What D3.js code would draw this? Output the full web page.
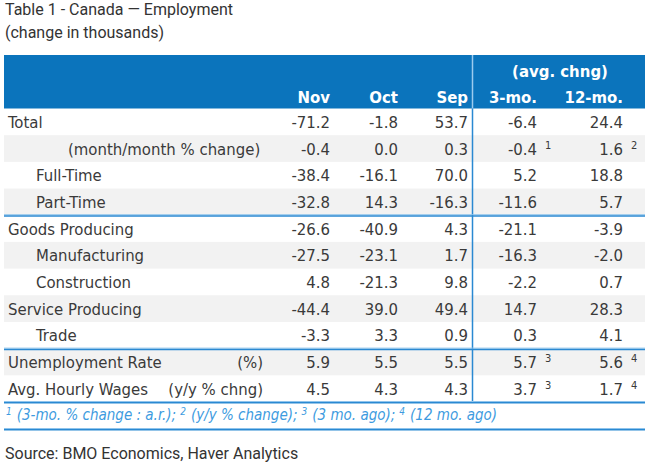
<!DOCTYPE html>
<html lang="en">
<head>
  <meta charset="UTF-8">
  <title>Table 1 - Canada — Employment</title>
  <script src="https://cdn.jsdelivr.net/npm/d3@7"></script>
  <style>
    body { margin: 0; background: #fff; }
    .title { font: 16px Roboto, sans-serif; fill: #333; }
    .cell, .head, .sup, .note { font-family: "DejaVu Sans", sans-serif; font-stretch: condensed; }
    .cell { font-size: 16.6px; fill: #3a3a3a; }
    .head { font-size: 16.6px; font-weight: bold; fill: #fff; }
    .sup { font-size: 11px; fill: #3a3a3a; }
    .note { font-size: 15px; font-style: italic; fill: #3d9be0; }
  </style>
</head>
<body>
  <svg width="657" height="468"></svg>
  <script>
    // table data
    const labels = ['Total', '(month/month % change)', 'Full-Time', 'Part-Time', 'Goods Producing',
      'Manufacturing', 'Construction', 'Service Producing', 'Trade', 'Unemployment Rate', 'Avg. Hourly Wages'];
    const indent = [0, 2, 1, 1, 0, 1, 1, 0, 1, 0, 0];
    const unitLabels = ['', '', '', '', '', '', '', '', '', '(%)', '(y/y % chng)'];
    const nov = ['-71.2', '-0.4', '-38.4', '-32.8', '-26.6', '-27.5', '4.8', '-44.4', '-3.3', '5.9', '4.5'];
    const oct = ['-1.8', '0.0', '-16.1', '14.3', '-40.9', '-23.1', '-21.3', '39.0', '3.3', '5.5', '4.3'];
    const sep = ['53.7', '0.3', '70.0', '-16.3', '4.3', '1.7', '9.8', '49.4', '0.9', '5.5', '4.3'];
    const avg3 = ['-6.4', '-0.4', '5.2', '-11.6', '-21.1', '-16.3', '-2.2', '14.7', '0.3', '5.7', '3.7'];
    const avg12 = ['24.4', '1.6', '18.8', '5.7', '-3.9', '-2.0', '0.7', '28.3', '4.1', '5.6', '1.7'];
    const sup3 = ['', '1', '', '', '', '', '', '', '', '3', '3'];
    const sup12 = ['', '2', '', '', '', '', '', '', '', '4', '4'];
    const columns = ['Nov', 'Oct', 'Sep', '3-mo.', '12-mo.'];
    const breaksAfter = [3, 8, 10];
    const footnotes = [['1', '(3-mo. % change : a.r.);'], ['2', '(y/y % change);'], ['3', '(3 mo. ago);'], ['4', '(12 mo. ago)']];

    const svg = d3.select('svg');
    const blue = '#0b74bc';
    const lineBlue = '#2a89d2';

    const y = d3.scaleBand().domain(d3.range(labels.length)).range([108.5, 402]);
    const x = d3.scaleOrdinal().domain(columns).range([330, 398, 468, 537, 623]);
    const left = 4, right = 645, divider = 472.5;

    // titles
    svg.append('text').attr('class', 'title').attr('x', 5).attr('y', 15).text('Table 1 - Canada — Employment');
    svg.append('text').attr('class', 'title').attr('x', 5).attr('y', 38).text('(change in thousands)');

    // header
    svg.append('rect').attr('x', left).attr('y', 55).attr('width', right - left).attr('height', 53.5).attr('fill', blue);
    svg.append('line').attr('x1', divider).attr('x2', divider).attr('y1', 55).attr('y2', 108.5)
      .attr('stroke', '#9ccbef').attr('stroke-width', 1.5);
    svg.append('text').attr('class', 'head').attr('x', (x('3-mo.') + x('12-mo.')) / 2 - 20).attr('y', 77)
      .attr('text-anchor', 'middle').text('(avg. chng)');
    svg.selectAll('.colhead').data(columns).enter().append('text')
      .attr('class', 'head').attr('x', d => x(d)).attr('y', 103)
      .attr('text-anchor', 'end').text(d => d);

    // row shading
    svg.selectAll('.band').data(d3.range(labels.length).filter(i => i % 2 === 1)).enter().append('rect')
      .attr('x', left).attr('y', d => y(d)).attr('width', right - left).attr('height', y.bandwidth())
      .attr('fill', '#f2f2f2');

    // labels
    const rows = svg.selectAll('.row').data(labels).enter().append('g')
      .attr('transform', (d, i) => `translate(0,${y(i) + y.bandwidth() / 2 + 6})`);
    rows.append('text').attr('class', 'cell')
      .attr('x', (d, i) => [8, 36, 68][indent[i]]).text(d => d);
    rows.append('text').attr('class', 'cell').attr('x', 263).attr('text-anchor', 'end')
      .text((d, i) => unitLabels[i]);

    const series = [nov, oct, sep, avg3, avg12];
    series.forEach((vals, c) => {
      rows.append('text').attr('class', 'cell').attr('x', x(columns[c])).attr('text-anchor', 'end')
        .text((d, i) => vals[i]);
    });
    rows.append('text').attr('class', 'sup').attr('x', x('3-mo.') + 8).attr('y', -6).text((d, i) => sup3[i]);
    rows.append('text').attr('class', 'sup').attr('x', x('12-mo.') + 8).attr('y', -6).text((d, i) => sup12[i]);

    // divider and rules
    svg.append('line').attr('x1', divider).attr('x2', divider).attr('y1', 108.5).attr('y2', 402)
      .attr('stroke', lineBlue).attr('stroke-width', 1.5);
    const rule = yy => {
      svg.append('line').attr('x1', left).attr('x2', right).attr('y1', yy - 0.5).attr('y2', yy - 0.5)
        .attr('stroke', '#8fc4ec').attr('stroke-width', 1);
      svg.append('line').attr('x1', left).attr('x2', right).attr('y1', yy + 0.75).attr('y2', yy + 0.75)
        .attr('stroke', lineBlue).attr('stroke-width', 1.5);
    };
    breaksAfter.forEach(i => rule(y(i) + y.bandwidth()));
    rule(429);

    // footnote line
    const note = svg.append('text').attr('class', 'note').attr('x', 6).attr('y', 420);
    footnotes.forEach(([n, t], i) => {
      note.append('tspan').attr('font-size', 10).attr('dy', -5).attr('dx', i ? 4 : 0).text(n);
      note.append('tspan').attr('dy', 5).attr('dx', 5).text(t);
    });

    svg.append('text').attr('class', 'title').attr('x', 5).attr('y', 459).attr('fill', '#333')
      .text('Source: BMO Economics, Haver Analytics');
  </script>
</body>
</html>
